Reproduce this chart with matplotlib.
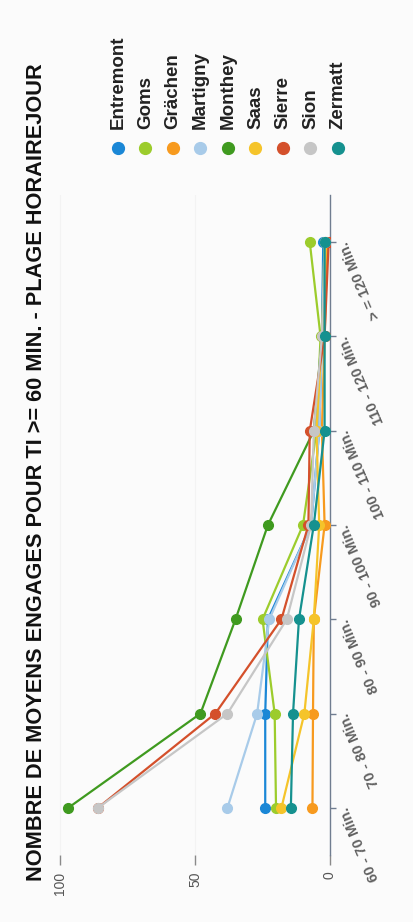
import matplotlib
matplotlib.use("Agg")
import matplotlib.pyplot as plt

categories = ["60 - 70 Min.", "70 - 80 Min.", "80 - 90 Min.", "90 - 100 Min.",
              "100 - 110 Min.", "110 - 120 Min.", "> = 120 Min."]
series_names = ["Entremont", "Goms", "Grächen", "Martigny", "Monthey",
                "Saas", "Sierre", "Sion", "Zermatt"]
entremont = [24, 24, 23, 7, 4, 3, 2.5]
goms = [20, 20.5, 25, 10, 5, 3.5, 7.5]
graechen = [6.5, 6.3, 6, 2, 3, 2, 1]
martigny = [38, 27, 22.5, 7, 4, 3, 2]
monthey = [97, 48, 35, 23, 6, 3, 2]
saas = [18, 9.5, 6, 4, 5, 3, 1.5]
sierre = [86, 42.5, 18, 8, 7.5, 2, 0.5]
sion = [86, 38, 16, 7, 6, 3, 2]
zermatt = [14.5, 13.7, 11.5, 6, 2, 2, 2]
series_values = [entremont, goms, graechen, martigny, monthey, saas, sierre, sion, zermatt]
colors = ["#1a87d6", "#9ccc2c", "#f79a1e", "#a8cbe9", "#3f9a1f",
          "#f5c42a", "#d4502b", "#c6c6c6", "#15918f"]
value_ticks = [0, 50, 100]
title = "NOMBRE DE MOYENS ENGAGES POUR TI >= 60 MIN. - PLAGE HORAIREJOUR"

W, H = 414, 922
fig = plt.figure(figsize=(W / 100, H / 100), dpi=100)
fig.patch.set_facecolor("#fbfbfb")

def fx(px):
    return px / W

def fy(py):
    return 1 - py / H

# axes: left 45px .. right 330px, top 195px .. bottom 855px
ax = fig.add_axes([fx(45), fy(855), fx(330) - fx(45), (855 - 195) / H])
ax.set_facecolor("none")

idx = list(range(len(categories)))
for name, vals, c in zip(series_names, series_values, colors):
    ax.plot(vals, idx, color=c, lw=1.6, marker="o", markersize=7,
            markeredgecolor=c, label=name, solid_capstyle="round", zorder=3)

ax.set_xlim(105.6, 0)
ax.set_ylim(-0.5, 6.5)

for s in ["left", "top", "bottom"]:
    ax.spines[s].set_visible(False)
ax.spines["right"].set_color("#707d90")
ax.spines["right"].set_linewidth(1.0)

ax.set_xticks(value_ticks)
ax.set_xticklabels([str(v) for v in value_ticks])
ax.tick_params(axis="x", direction="out", length=7, width=1, color="#8a8a8a",
               labelsize=10, labelcolor="#555555", labelrotation=90, pad=5)
ax.grid(axis="x", color="#f3f3f3", lw=0.8, zorder=0)

ax.yaxis.tick_right()
ax.set_yticks(idx)
ax.set_yticklabels(categories)
ax.tick_params(axis="y", direction="out", length=4, width=1, color="#707d90",
               labelsize=10.5, labelcolor="#606060", pad=6)
for lab in ax.get_yticklabels():
    lab.set_rotation(113)
    lab.set_rotation_mode("anchor")
    lab.set_ha("right")
    lab.set_va("center")
    lab.set_fontweight("bold")
    lab.set_family(["Liberation Sans", "DejaVu Sans"])
for lab in ax.get_xticklabels():
    lab.set_family(["Liberation Sans", "DejaVu Sans"])

# title (rotated, reading bottom to top)
fig.text(fx(37), fy(472), title, rotation=90, ha="center", va="center",
         fontsize=15.7, fontweight="bold", color="#111111",
         family=["Liberation Sans", "DejaVu Sans"])

# legend, laid out vertically-rotated
leg_x0, leg_dx, leg_y_marker, leg_y_text = 118, 27.5, 148, 129
for i, (name, c) in enumerate(zip(series_names, colors)):
    x = leg_x0 + i * leg_dx
    fig.add_artist(plt.Line2D([fx(x)], [fy(leg_y_marker)], marker="o",
                              markersize=8.5, color=c, markeredgecolor=c,
                              transform=fig.transFigure))
    fig.text(fx(x), fy(leg_y_text), name, rotation=90, rotation_mode="anchor",
             ha="left", va="center", fontsize=13.5, fontweight="bold",
             color="#222222", family=["Liberation Sans", "DejaVu Sans"])

fig.savefig("out.png", dpi=100, facecolor=fig.get_facecolor())
